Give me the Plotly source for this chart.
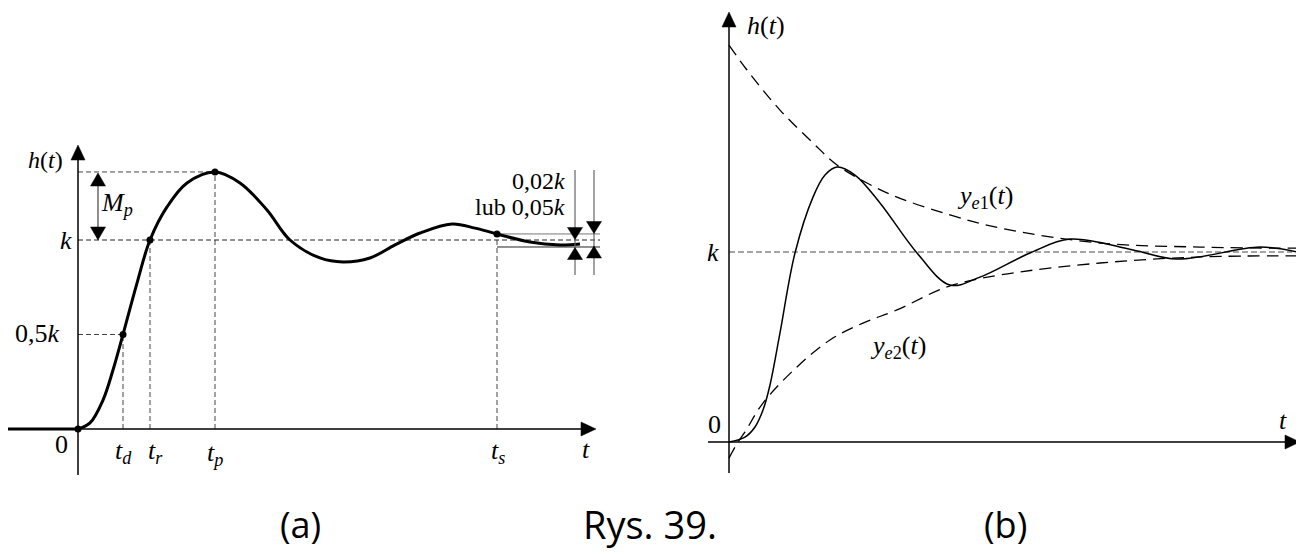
import plotly.graph_objects as go

W, H = 1304, 554
OFF = 8            # the page body margin shifts the figure by 8 px
FW, FH = W - OFF, H - OFF

# ---------------- data: panel (a)  (t in arbitrary units, h in units of k) -------------
t_a = [0.0, 0.12, 0.25, 0.35, 0.45, 0.59, 0.72, 0.89, 1.09, 1.37, 1.62, 1.89, 2.12,
       2.42, 2.65, 2.92, 3.17, 3.42, 3.74, 3.97, 4.19, 4.52, 4.82, 5.02]
h_a = [0.0, 0.032, 0.153, 0.312, 0.5, 0.772, 1.0, 1.175, 1.302, 1.36, 1.302, 1.159, 1.0,
       0.905, 0.884, 0.905, 0.974, 1.037, 1.085, 1.063, 1.032, 0.989, 0.974, 0.979]
t_pre = [-0.73, 0.0]
h_pre = [0.0, 0.0]
t_d, t_r, t_p, t_s = 0.45, 0.72, 1.37, 4.19
h_half, h_k, h_peak = 0.5, 1.0, 1.36
band_hi, band_lo = 1.032, 0.963
band_end = 5.22

# ---------------- data: panel (b) ----------------
t_b = [0.0, 0.16, 0.26, 0.34, 0.41, 0.51, 0.66, 0.84, 0.96, 1.08, 1.26, 1.51, 1.88,
       2.21, 2.51, 3.01, 3.41, 4.04, 4.48, 5.31, 5.68]
h_b = [0.0, 0.026, 0.079, 0.168, 0.30, 0.574, 0.995, 1.289, 1.405, 1.447, 1.405, 1.258,
       0.995, 0.826, 0.868, 0.995, 1.068, 1.011, 0.963, 1.026, 1.0]
t_e1 = [0.0, 0.18, 0.51, 0.84, 1.08, 1.38, 1.68, 2.21, 2.71, 3.71, 4.71, 5.68]
h_e1 = [2.089, 1.958, 1.747, 1.574, 1.458, 1.363, 1.289, 1.195, 1.126, 1.047, 1.026, 1.02]
t_e2 = [0.0, 0.09, 0.16, 0.34, 0.68, 1.01, 1.34, 1.68, 2.18, 2.71, 3.71, 4.71, 5.68]
h_e2 = [-0.085, 0.0, 0.053, 0.205, 0.395, 0.537, 0.626, 0.695, 0.816, 0.879, 0.942, 0.974, 0.98]
k_b = 1.0
t_b_end = 5.71

# ---------------- pixel <-> data helpers (layout only) ----------------
PAN = {
    "a": dict(x0=78, sx=100.0, y0=429, sy=189.0, xref="x", yref="y"),
    "b": dict(x0=729, sx=100.0, y0=442, sy=190.0, xref="x2", yref="y2"),
}


def P(p, px, py):
    d = PAN[p]
    return (px - d["x0"]) / d["sx"], (d["y0"] - py) / d["sy"]


def tri(p, px, py, direction, w=14, h=13):
    if direction == "up":
        pts = [(px, py), (px - w / 2, py + h), (px + w / 2, py + h)]
    elif direction == "down":
        pts = [(px, py), (px - w / 2, py - h), (px + w / 2, py - h)]
    else:  # right
        pts = [(px, py), (px - h, py - w / 2), (px - h, py + w / 2)]
    dp = [P(p, *q) for q in pts]
    path = "M {:.4f},{:.4f} L {:.4f},{:.4f} L {:.4f},{:.4f} Z".format(
        dp[0][0], dp[0][1], dp[1][0], dp[1][1], dp[2][0], dp[2][1])
    return dict(type="path", path=path, xref=PAN[p]["xref"], yref=PAN[p]["yref"],
                fillcolor="black", line=dict(color="black", width=0.5))


def seg(p, px1, py1, px2, py2, color="black", width=1.2, dash="solid"):
    a = P(p, px1, py1)
    b = P(p, px2, py2)
    return dict(type="line", x0=a[0], y0=a[1], x1=b[0], y1=b[1],
                xref=PAN[p]["xref"], yref=PAN[p]["yref"],
                line=dict(color=color, width=width, dash=dash))


fig = go.Figure()

DASH_A = "5px,3px"
dcol = "#444"


def add_line(x, y, xa="x", ya="y", color="black", width=1, dash="solid", shape="linear"):
    fig.add_trace(go.Scatter(x=x, y=y, mode="lines", xaxis=xa, yaxis=ya,
                             line=dict(color=color, width=width, dash=dash, shape=shape),
                             hoverinfo="skip", showlegend=False))


# panel (a) reference dashed lines
add_line([0, t_d], [h_half, h_half], color=dcol, dash=DASH_A)
add_line([t_d, t_d], [0, h_half], color=dcol, dash=DASH_A)
add_line([t_r, t_r], [0, h_k], color=dcol, dash=DASH_A)
add_line([0, t_p], [h_peak, h_peak], color=dcol, dash=DASH_A)
add_line([t_p, t_p], [0, h_peak], color=dcol, dash=DASH_A)
add_line([0, band_end], [h_k, h_k], color="#222", dash=DASH_A)
add_line([t_s, t_s], [0, band_hi], color=dcol, dash=DASH_A)
# tolerance band
add_line([t_s, band_end], [band_hi, band_hi], color="#777", width=1)
add_line([t_s, band_end], [band_lo, band_lo], color="#222", width=1)

# panel (a) curve
add_line(t_pre, h_pre, color="black", width=3)
add_line(t_a, h_a, color="black", width=3, shape="spline")
fig.add_trace(go.Scatter(x=[0, t_d, t_r, t_p, t_s], y=[0, h_half, h_k, h_peak, band_hi],
                         mode="markers", marker=dict(color="black", size=7),
                         hoverinfo="skip", showlegend=False))

# panel (b)
add_line([0, t_b_end - 0.08], [k_b, k_b], "x2", "y2", color="#888", width=1.5, dash="6px,3px")
add_line(t_e1, h_e1, "x2", "y2", color="black", width=1.3, dash="12px,7px", shape="spline")
add_line(t_e2, h_e2, "x2", "y2", color="black", width=1.3, dash="12px,7px", shape="spline")
add_line(t_b, h_b, "x2", "y2", color="black", width=1.5, shape="spline")

shapes = []
# axes panel (a)
shapes.append(seg("a", 5, 429, 582, 429, width=1.5))
shapes.append(tri("a", 596, 429, "right", w=14, h=15))
shapes.append(seg("a", 78, 475, 78, 158, width=1.5))
shapes.append(tri("a", 78, 145, "up", w=14, h=15))
# M_p arrow
shapes.append(seg("a", 98, 180, 98, 232, color="#444", width=1.2))
shapes.append(tri("a", 98, 173, "up", w=15, h=13))
shapes.append(tri("a", 98, 240, "down", w=15, h=13))
# tolerance arrows
shapes.append(seg("a", 575, 170, 575, 275, color="#666", width=1.2))
shapes.append(seg("a", 594, 170, 594, 275, color="#666", width=1.2))
shapes.append(tri("a", 575, 239.5, "down", w=15, h=12))
shapes.append(tri("a", 575, 247.5, "up", w=15, h=12))
shapes.append(tri("a", 594, 233.5, "down", w=15, h=12))
shapes.append(tri("a", 594, 246, "up", w=15, h=12))
# axes panel (b)
shapes.append(seg("b", 708, 442, 1287, 442, width=1.5))
shapes.append(tri("b", 1300, 442, "right", w=14, h=15))
shapes.append(seg("b", 729, 473, 729, 25, width=1.5))
shapes.append(tri("b", 729, 12, "up", w=14, h=15))

SERIF = "Liberation Serif"
SANS = "Open Sans"


def txt(px, py, s, size=24, xanchor="center", family=SERIF):
    return dict(x=(px - OFF) / FW, y=1 - (py - OFF) / FH, xref="paper", yref="paper", text=s,
                showarrow=False, xanchor=xanchor, yanchor="middle",
                font=dict(family=family, size=size, color="black"))


anns = [
    txt(45, 160, "<i>h</i>(<i>t</i>)", 24),
    txt(117, 204, "<i>M</i><sub><i>p</i></sub>", 26),
    txt(66, 240, "<i>k</i>", 26),
    txt(37, 333, "0,5<i>k</i>", 26),
    txt(61, 444, "0", 26),
    txt(123, 452, "<i>t</i><sub><i>d</i></sub>", 26),
    txt(155, 452, "<i>t</i><sub><i>r</i></sub>", 26),
    txt(215, 454, "<i>t</i><sub><i>p</i></sub>", 26),
    txt(498, 452, "<i>t</i><sub><i>s</i></sub>", 26),
    txt(586, 449, "<i>t</i>", 26),
    txt(567, 181, "0,02<i>k</i>", 24, xanchor="right"),
    txt(567, 207, "lub 0,05<i>k</i>", 24, xanchor="right"),
    txt(745, 25, "<i>h</i>(<i>t</i>)", 26, xanchor="left"),
    txt(713, 253, "<i>k</i>", 26),
    txt(714, 424, "0", 26),
    txt(1283, 420, "<i>t</i>", 26),
    txt(985, 197, "<i>y</i><sub><i>e</i>1</sub>(<i>t</i>)", 26),
    txt(898, 347, "<i>y</i><sub><i>e</i>2</sub>(<i>t</i>)", 26),
    txt(300, 524, "(a)", 36, family=SANS),
    txt(650, 524, "Rys. 39.", 38, family=SANS),
    txt(1005, 524, "(b)", 36, family=SANS),
]

ax_common = dict(visible=False, showgrid=False, zeroline=False, fixedrange=True)
XSPLIT = 650
fig.update_layout(
    width=FW, height=FH, margin=dict(l=0, r=0, t=0, b=0),
    paper_bgcolor="white", plot_bgcolor="white", showlegend=False,
    xaxis=dict(domain=[0, (XSPLIT - OFF) / FW],
               range=[(OFF - 78) / 100, (XSPLIT - 78) / 100], **ax_common),
    yaxis=dict(domain=[0, 1], range=[(429 - H) / 189, (429 - OFF) / 189], **ax_common),
    xaxis2=dict(domain=[(XSPLIT - OFF) / FW, 1],
                range=[(XSPLIT - 729) / 100, (W - 729) / 100], **ax_common),
    yaxis2=dict(domain=[0, 1], range=[(442 - H) / 190, (442 - OFF) / 190], anchor="x2",
                **ax_common),
    shapes=shapes, annotations=anns,
)
fig.write_html("out.html")
